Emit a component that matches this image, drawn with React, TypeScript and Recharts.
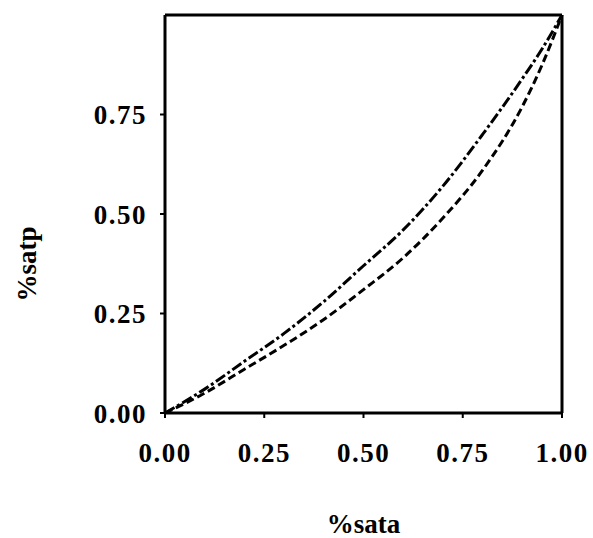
import { LineChart, Line, XAxis, YAxis, ReferenceLine, Label } from 'recharts';

const sata = [0, 0.1, 0.2, 0.3, 0.4, 0.5, 0.6, 0.7, 0.8, 0.9, 0.95, 1.0];
const dashDotSeries = [0, 0.06, 0.13, 0.2, 0.28, 0.37, 0.46, 0.57, 0.7, 0.84, 0.915, 1.0];
const dashedSeries = [0, 0.05, 0.11, 0.17, 0.235, 0.31, 0.39, 0.49, 0.61, 0.77, 0.875, 1.0];
const xTicks = [0, 0.25, 0.5, 0.75, 1];
const yTicks = [0, 0.25, 0.5, 0.75];

const data = sata.map((x, i) => ({ x, dashDot: dashDotSeries[i], dashed: dashedSeries[i] }));

const FONT = '"Liberation Serif", "Times New Roman", serif';
const tickStyle = { fill: '#000', fontSize: 27, fontFamily: FONT, fontWeight: 700, letterSpacing: 1.5 };

export default function App() {
  return (
    <div style={{ position: 'absolute', left: 0, top: 0, background: '#fff' }}>
      <LineChart width={593} height={538} data={data} margin={{ top: 15, right: 31, bottom: 0, left: 0 }}>
        <XAxis
          type="number"
          dataKey="x"
          domain={[0, 1]}
          ticks={xTicks}
          tickFormatter={(v: number) => v.toFixed(2)}
          height={125}
          tick={tickStyle}
          tickSize={5}
          tickMargin={25}
          axisLine={{ stroke: '#000', strokeWidth: 3 }}
          tickLine={{ stroke: '#000', strokeWidth: 2 }}
        >
          <Label
            content={({ viewBox }: any) => (
              <text
                x={viewBox.x + viewBox.width / 2}
                y={viewBox.y + 120}
                textAnchor="middle"
                style={{ fontFamily: FONT, fontWeight: 700, fontSize: 27 }}
                fill="#000"
              >
                %sata
              </text>
            )}
          />
        </XAxis>
        <YAxis
          type="number"
          domain={[0, 1]}
          ticks={yTicks}
          tickFormatter={(v: number) => v.toFixed(2)}
          width={165}
          tick={tickStyle}
          tickSize={5}
          tickMargin={13}
          axisLine={{ stroke: '#000', strokeWidth: 3 }}
          tickLine={{ stroke: '#000', strokeWidth: 2 }}
        >
          <Label
            content={({ viewBox }: any) => {
              const cx = viewBox.x + 36;
              const cy = viewBox.y + viewBox.height / 2 + 50;
              return (
                <text
                  x={cx}
                  y={cy}
                  textAnchor="middle"
                  transform={`rotate(-90 ${cx} ${cy})`}
                  style={{ fontFamily: FONT, fontWeight: 700, fontSize: 27 }}
                  fill="#000"
                >
                  %satp
                </text>
              );
            }}
          />
        </YAxis>
        <ReferenceLine y={1} stroke="#000" strokeWidth={3} />
        <ReferenceLine x={1} stroke="#000" strokeWidth={3} />
        <Line
          type="monotone"
          dataKey="dashDot"
          stroke="#000"
          strokeWidth={3}
          strokeDasharray="11 3 3 3"
          dot={false}
          isAnimationActive={false}
        />
        <Line
          type="monotone"
          dataKey="dashed"
          stroke="#000"
          strokeWidth={3}
          strokeDasharray="8 4"
          dot={false}
          isAnimationActive={false}
        />
      </LineChart>
    </div>
  );
}
